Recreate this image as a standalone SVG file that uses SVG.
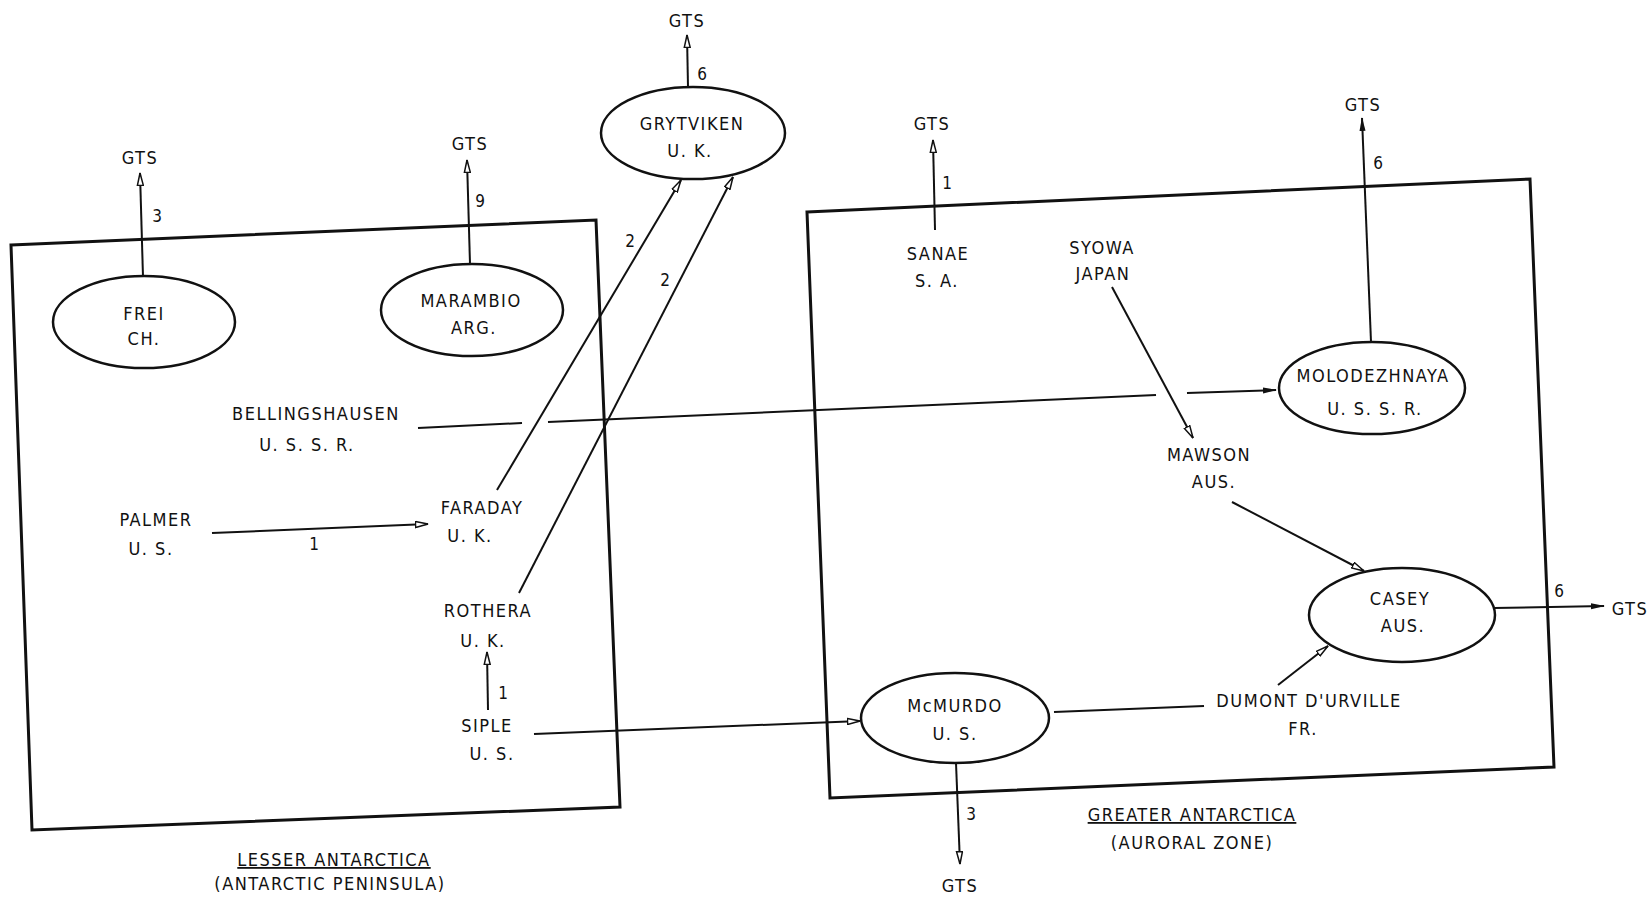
<svg xmlns="http://www.w3.org/2000/svg" width="1648" height="897" viewBox="0 0 1648 897">
<style>
text { font-family: "DejaVu Sans Condensed", "Liberation Sans Narrow", "DejaVu Sans", sans-serif; font-size: 18px; fill: #111; text-anchor: middle; letter-spacing: 1.5px; }
.num { font-size: 17px; letter-spacing: 0; }
.box { fill: none; stroke: #111; stroke-width: 3; stroke-linejoin: miter; }
.node { fill: #fff; stroke: #111; stroke-width: 2.5; }
.c { fill: none; stroke: #111; stroke-width: 2; }
.ca { fill: none; stroke: #111; stroke-width: 2; marker-end: url(#open); }
.cf { fill: none; stroke: #111; stroke-width: 2; marker-end: url(#solid); }
</style>
<defs>
<marker id="open" viewBox="0 0 14 8" refX="13" refY="4" markerWidth="14" markerHeight="8" markerUnits="userSpaceOnUse" orient="auto">
<path d="M0.5,1 L13,4 L0.5,7 Z" fill="#fff" stroke="#111" stroke-width="1.5"/>
</marker>
<marker id="solid" viewBox="0 0 14 8" refX="13" refY="4" markerWidth="14" markerHeight="8" markerUnits="userSpaceOnUse" orient="auto">
<path d="M0,1 L14,4 L0,7 Z" fill="#111"/>
</marker>
</defs>
<rect width="1648" height="897" fill="#fff"/>

<g id="regions">
<polygon class="box" points="11,245 596,220 620,807 32,830"/>
<polygon class="box" points="807,212 1530,179 1554,767 830,798"/>
<text x="334" y="866" text-decoration="underline">LESSER ANTARCTICA</text>
<text x="330" y="890">(ANTARCTIC PENINSULA)</text>
<text x="1192" y="821" text-decoration="underline">GREATER ANTARCTICA</text>
<text x="1192" y="849">(AURORAL ZONE)</text>
</g>

<g id="connectors">
<line class="ca" x1="143" y1="277" x2="140" y2="173"/>
<line class="ca" x1="470" y1="264" x2="467" y2="160"/>
<line class="ca" x1="688" y1="87" x2="687" y2="35"/>
<line class="ca" x1="497" y1="490" x2="681" y2="180"/>
<line class="ca" x1="519" y1="593" x2="733" y2="177"/>
<line class="ca" x1="212" y1="533" x2="428" y2="524"/>
<line class="ca" x1="488" y1="710" x2="487" y2="652"/>
<line class="ca" x1="534" y1="734" x2="860" y2="721"/>
<line class="c" x1="418" y1="428" x2="522" y2="423"/>
<line class="c" x1="548" y1="422" x2="1156" y2="395"/>
<line class="cf" x1="1187" y1="393" x2="1276" y2="390"/>
<line class="ca" x1="935" y1="230" x2="933" y2="140"/>
<line class="ca" x1="1112" y1="287" x2="1193" y2="438"/>
<line class="cf" x1="1371" y1="342" x2="1362" y2="118"/>
<line class="ca" x1="1232" y1="502" x2="1364" y2="571"/>
<line class="c" x1="1054" y1="712" x2="1204" y2="706"/>
<line class="ca" x1="1278" y1="685" x2="1328" y2="646"/>
<line class="cf" x1="1494" y1="608" x2="1604" y2="606"/>
<line class="ca" x1="956" y1="763" x2="960" y2="864"/>
<text class="num" x="157" y="222">3</text>
<text class="num" x="480" y="207">9</text>
<text class="num" x="702" y="80">6</text>
<text class="num" x="630" y="247">2</text>
<text class="num" x="665" y="286">2</text>
<text class="num" x="314" y="550">1</text>
<text class="num" x="503" y="699">1</text>
<text class="num" x="947" y="189">1</text>
<text class="num" x="1378" y="169">6</text>
<text class="num" x="1559" y="597">6</text>
<text class="num" x="971" y="820">3</text>
</g>

<g id="gts">
<text x="140" y="164">GTS</text>
<text x="470" y="150">GTS</text>
<text x="687" y="27">GTS</text>
<text x="932" y="130">GTS</text>
<text x="1363" y="111">GTS</text>
<text x="1630" y="615">GTS</text>
<text x="960" y="892">GTS</text>
</g>

<g id="frei">
<ellipse class="node" cx="144" cy="322" rx="91" ry="46"/>
<text x="144" y="320">FREI</text>
<text x="144" y="345">CH.</text>
</g>
<g id="marambio">
<ellipse class="node" cx="472" cy="310" rx="91" ry="46"/>
<text x="471" y="307">MARAMBIO</text>
<text x="474" y="334">ARG.</text>
</g>
<g id="grytviken">
<ellipse class="node" cx="693" cy="133" rx="92" ry="46"/>
<text x="692" y="130">GRYTVIKEN</text>
<text x="690" y="157">U. K.</text>
</g>
<g id="bellingshausen">
<text x="316" y="420">BELLINGSHAUSEN</text>
<text x="307" y="451">U. S. S. R.</text>
</g>
<g id="palmer">
<text x="156" y="526">PALMER</text>
<text x="151" y="555">U. S.</text>
</g>
<g id="faraday">
<text x="482" y="514">FARADAY</text>
<text x="470" y="542">U. K.</text>
</g>
<g id="rothera">
<text x="488" y="617">ROTHERA</text>
<text x="483" y="647">U. K.</text>
</g>
<g id="siple">
<text x="487" y="732">SIPLE</text>
<text x="492" y="760">U. S.</text>
</g>
<g id="sanae">
<text x="938" y="260">SANAE</text>
<text x="937" y="287">S. A.</text>
</g>
<g id="syowa">
<text x="1102" y="254">SYOWA</text>
<text x="1103" y="280">JAPAN</text>
</g>
<g id="molodezhnaya">
<ellipse class="node" cx="1372" cy="388" rx="93" ry="46"/>
<text x="1373" y="382">MOLODEZHNAYA</text>
<text x="1375" y="415">U. S. S. R.</text>
</g>
<g id="mawson">
<text x="1209" y="461">MAWSON</text>
<text x="1214" y="488">AUS.</text>
</g>
<g id="casey">
<ellipse class="node" cx="1402" cy="615" rx="93" ry="47"/>
<text x="1400" y="605">CASEY</text>
<text x="1403" y="632">AUS.</text>
</g>
<g id="mcmurdo">
<ellipse class="node" cx="955" cy="718" rx="94" ry="45"/>
<text x="955" y="712">McMURDO</text>
<text x="955" y="740">U. S.</text>
</g>
<g id="dumont">
<text x="1309" y="707">DUMONT D'URVILLE</text>
<text x="1303" y="735">FR.</text>
</g>
</svg>
